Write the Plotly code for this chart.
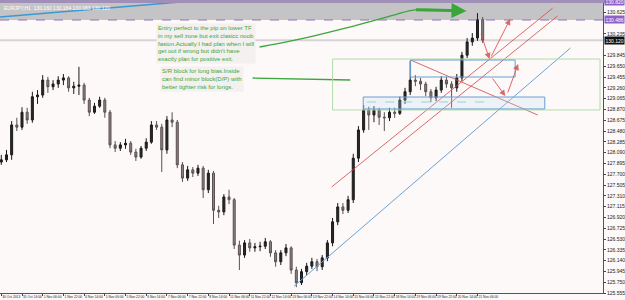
import plotly.graph_objects as go

# ---------------- data (4-hour bars, prices) ----------------
bar_hours = [4 * i for i in range(94)]
opens = [127.92,127.96,128.05,128.59,128.55,128.82,128.68,129.10,129.13,129.40,
         129.28,129.33,129.40,129.44,129.26,129.29,129.31,129.04,128.82,128.93,
         129.04,128.82,128.23,128.17,128.23,128.26,128.10,128.01,128.17,128.28,
         128.59,128.55,128.14,128.68,128.64,127.87,127.63,127.78,127.72,127.81,
         127.42,127.72,127.05,127.02,127.29,127.24,126.42,126.24,126.46,126.37,
         126.39,126.40,126.48,126.28,126.12,126.28,126.37,125.97,125.74,125.94,
         126.04,126.12,126.03,126.19,126.46,126.84,127.11,127.05,127.24,127.99,
         128.50,128.86,128.77,128.86,128.73,128.72,128.82,128.80,129.04,129.19,
         129.40,129.38,129.33,129.19,129.08,129.22,129.40,129.33,129.26,129.44,
         129.85,130.09,130.16,130.49]
highs = [128.05,128.14,128.66,128.72,128.91,128.90,129.19,129.22,129.49,129.46,
         129.40,129.47,129.51,129.47,129.37,129.64,129.35,129.08,128.99,129.10,
         129.08,128.86,128.30,128.28,128.34,128.30,128.16,128.21,128.35,128.66,
         128.66,128.61,128.75,128.82,128.68,127.92,127.85,127.83,127.87,127.85,
         127.78,127.76,127.13,127.34,127.42,127.27,126.50,126.51,126.53,126.46,
         126.48,126.55,126.51,126.33,126.33,126.44,126.40,126.03,125.99,126.10,
         126.19,126.17,126.24,126.51,126.91,127.18,127.18,127.31,128.07,128.57,
         128.95,128.92,128.93,128.90,128.82,128.90,128.90,129.10,129.26,129.75,
         129.49,129.44,129.37,129.24,129.28,129.47,129.46,129.38,129.51,129.91,
         130.16,130.25,130.61,130.54]
lows = [127.87,127.92,127.96,128.48,128.50,128.61,128.63,128.97,129.08,129.17,
        129.22,129.26,129.31,129.19,129.15,129.13,128.97,128.75,128.79,128.90,
        128.72,128.17,128.10,128.12,128.16,128.05,127.94,127.98,128.12,128.25,
        128.50,127.74,128.07,128.55,127.81,127.56,127.58,127.65,127.67,127.27,
        127.36,126.80,126.91,126.96,127.16,126.35,125.97,126.19,126.30,126.30,
        126.31,126.35,126.21,126.03,126.06,126.22,125.90,125.66,125.70,125.88,
        125.99,125.95,125.97,126.13,126.40,126.78,126.98,127.00,127.18,127.92,
        128.45,128.50,128.64,128.59,128.48,128.66,128.72,128.77,128.97,129.13,
        129.29,129.22,129.11,129.00,129.02,129.17,129.26,128.90,129.19,129.38,
        129.80,130.02,130.11,130.07]
closes = [127.96,128.05,128.59,128.55,128.82,128.68,129.10,129.13,129.40,129.28,
          129.33,129.40,129.44,129.26,129.29,129.31,129.04,128.82,128.93,129.04,
          128.82,128.23,128.17,128.23,128.26,128.10,128.01,128.17,128.28,128.59,
          128.55,128.14,128.68,128.64,127.87,127.63,127.78,127.72,127.81,127.42,
          127.72,127.05,127.02,127.29,127.24,126.42,126.24,126.46,126.37,126.39,
          126.40,126.48,126.28,126.12,126.28,126.37,125.97,125.74,125.94,126.04,
          126.12,126.03,126.19,126.46,126.84,127.11,127.05,127.24,127.99,128.50,
          128.86,128.77,128.86,128.73,128.72,128.82,128.80,129.04,129.19,129.40,
          129.38,129.33,129.19,129.08,129.22,129.40,129.33,129.26,129.44,129.85,
          130.09,130.16,130.49,130.12]

x_tick_hours = [16 * k for k in range(24)]
x_tick_labels = ["30 Oct 2013","31 Oct 14:00","1 Nov 06:00","1 Nov 22:00","4 Nov 14:00",
                 "5 Nov 06:00","5 Nov 22:00","6 Nov 14:00","7 Nov 06:00","7 Nov 22:00",
                 "8 Nov 14:00","11 Nov 06:00","11 Nov 22:00","12 Nov 14:00","13 Nov 06:00",
                 "13 Nov 22:00","14 Nov 14:00","15 Nov 06:00","15 Nov 22:00","18 Nov 14:00",
                 "19 Nov 06:00","19 Nov 22:00","20 Nov 14:00","21 Nov 06:00"]
y_tick_values = [125.555, 125.750, 125.945, 126.140, 126.335, 126.530, 126.725, 126.920,
                 127.115, 127.310, 127.505, 127.700, 127.895, 128.090, 128.285, 128.480,
                 128.675, 128.870, 129.065, 129.260, 129.455, 129.650, 129.845,
                 130.235, 130.625]
y_range = [125.555, 130.847]
x_range = [-1, 465]

# levels
top_level = 130.82
zone_level = 130.486
current_price = 130.12

# drawing objects (hours, prices)
blue_top_line = ([-1, 138.6], [130.54, 130.81])
blue_trend = ([226.3, 439.8], [125.68, 129.98])
red_desc = ([316.3, 414.6], [129.763, 128.770])
red_asc_a = ([255.3, 426.1], [127.47, 130.70])
red_asc_b = ([300.2, 429.9], [128.10, 130.558])
green_box = ([256.0, 462.7], [128.861, 129.781])
blue_box_upper = ([316.3, 397.1], [129.456, 129.763])
blue_box_lower = ([279.7, 420.0], [128.879, 129.095])
blue_dash = ([282.7, 375.0], [129.005, 129.005])
green_curve = ([199.6, 227.8, 265.9, 304.1, 319.3, 342.2, 357.5],
               [129.998, 130.125, 130.34, 130.58, 130.67, 130.67, 130.65])
green_pointer = ([194.2, 269.7], [129.438, 129.402])
red_arrows = [  # (from_h, from_p, to_h, to_p)
    (370.4, 130.251, 377.3, 129.781),
    (378.0, 129.800, 393.3, 130.504),
    (378.8, 129.456, 389.5, 129.113),
    (391.0, 129.149, 399.4, 129.691),
]
note1 = ("Entry perfect to the pip on lower TF<br>in my sell zone but exit clasicc noob<br>"
         "fasion.Actually I had plan when I will<br>get out if wrong but didn't have<br>"
         "exactly plan for positive exit.")
note2 = ("S/R block for long bias.Inside<br>can find minor block(D/P) with<br>"
         "better tighter risk for longs.")

BG = "#fcf9f8"
RED = "rgba(214,80,80,0.85)"
GREEN = "#3aa63a"

fig = go.Figure()

fig.add_trace(go.Candlestick(
    x=bar_hours, open=opens, high=highs, low=lows, close=closes,
    increasing=dict(line=dict(color="#1a1a1a", width=1), fillcolor="#2a2a2a"),
    decreasing=dict(line=dict(color="#5a5050", width=1), fillcolor="#8c8282"),
    whiskerwidth=0, showlegend=False, hoverinfo="skip"))

def seg(xy, color, width=1, dash="solid"):
    fig.add_trace(go.Scatter(x=xy[0], y=xy[1], mode="lines",
                             line=dict(color=color, width=width, dash=dash),
                             showlegend=False, hoverinfo="skip"))

def rect(xy, color, width=1, fill="rgba(0,0,0,0)", dash="solid", layer="above"):
    fig.add_shape(type="rect", xref="x", yref="y", x0=xy[0][0], x1=xy[0][1],
                  y0=xy[1][0], y1=xy[1][1], line=dict(color=color, width=width, dash=dash),
                  fillcolor=fill, layer=layer)

# grey zone at top
fig.add_shape(type="rect", xref="paper", yref="y", x0=0, x1=1, y0=zone_level, y1=y_range[1],
              fillcolor="#c4c3c6", line=dict(width=0), layer="below")
fig.add_shape(type="line", xref="paper", yref="y", x0=0, x1=1, y0=zone_level, y1=zone_level,
              line=dict(color="#9474b4", width=1.2, dash="dash"))
fig.add_shape(type="line", xref="paper", yref="y", x0=0, x1=1.03, y0=top_level, y1=top_level,
              line=dict(color="#a08fb8", width=3))
fig.add_shape(type="line", xref="paper", yref="y", x0=0, x1=1, y0=current_price, y1=current_price,
              line=dict(color="#d6d4d8", width=2), layer="below")

rect(green_box, "#b2dcaa")
rect(blue_box_lower, "#6b9fd0", fill="rgba(190,225,240,0.25)")
rect(blue_box_upper, "#6b9fd0")
seg(blue_dash, "#8ccbe0", 1, "dash")
seg(blue_top_line, "#3a9ad0", 1.6)
seg(blue_trend, "#6aa2d8", 1)
seg(red_desc, RED, 1)
seg(red_asc_a, RED, 1)
seg(red_asc_b, RED, 1)
seg(green_pointer, GREEN, 1.3)
fig.add_trace(go.Scatter(x=green_curve[0], y=green_curve[1], mode="lines",
                         line=dict(color=GREEN, width=1.3, shape="spline"),
                         showlegend=False, hoverinfo="skip"))
fig.add_annotation(x=green_curve[0][-1] + 2, y=green_curve[1][-1], ax=green_curve[0][-3],
                   ay=green_curve[1][-3], xref="x", yref="y", axref="x", ayref="y",
                   text="", showarrow=True, arrowhead=2, arrowsize=1, arrowwidth=3,
                   arrowcolor=GREEN)
for (fh, fp, th, tp) in red_arrows:
    fig.add_annotation(x=th, y=tp, ax=fh, ay=fp, xref="x", yref="y", axref="x", ayref="y",
                       text="", showarrow=True, arrowhead=2, arrowsize=1.2, arrowwidth=1,
                       arrowcolor=RED)

fig.add_annotation(x=119.5, y=130.44, xref="x", yref="y", xanchor="left", yanchor="top",
                   text=note1, showarrow=False, align="left", bgcolor="#f3f0ef",
                   font=dict(family="Arial", size=6, color=GREEN), borderpad=1)
fig.add_annotation(x=123.0, y=129.65, xref="x", yref="y", xanchor="left", yanchor="top",
                   text=note2, showarrow=False, align="left", bgcolor="#f3f0ef",
                   font=dict(family="Arial", size=6, color=GREEN), borderpad=1)

# header
fig.add_annotation(x=0.003, y=1, xref="paper", yref="paper", xanchor="left", yanchor="top",
                   text="EURJPY,H1  130.160 130.184 130.083 130.120", showarrow=False,
                   font=dict(family="Arial", size=5, color="#ffffff"), yshift=-3)

# price labels on right
for lvl, bg in [(top_level, "#8e5fc4"), (zone_level, "#8e5fc4"), (current_price, "#111111")]:
    fig.add_annotation(x=1, y=lvl, xref="paper", yref="y", xanchor="left", yanchor="middle",
                       text=f"{lvl:.3f}", showarrow=False, bgcolor=bg, borderpad=0.5,
                       font=dict(family="Arial", size=5, color="#ffffff"), xshift=1)

fig.update_layout(
    width=625, height=300, margin=dict(l=0, r=14, t=0, b=7),
    paper_bgcolor=BG, plot_bgcolor=BG, boxgap=0.45,
    xaxis=dict(range=x_range, rangeslider=dict(visible=False), tickvals=x_tick_hours,
               ticktext=x_tick_labels, ticklabelposition="outside right", tickangle=0,
               tickfont=dict(family="Arial", size=3.3, color="#222"), ticks="outside",
               ticklen=2, tickcolor="#444", showgrid=False, zeroline=False,
               showline=True, linecolor="#555", linewidth=1),
    yaxis=dict(range=y_range, side="right", tickvals=y_tick_values, tickformat=".3f",
               tickfont=dict(family="Arial", size=5, color="#222"), ticks="outside",
               ticklen=2, tickcolor="#444", showgrid=False, zeroline=False,
               showline=True, linecolor="#555", linewidth=1),
)

fig.write_html("out.html")
